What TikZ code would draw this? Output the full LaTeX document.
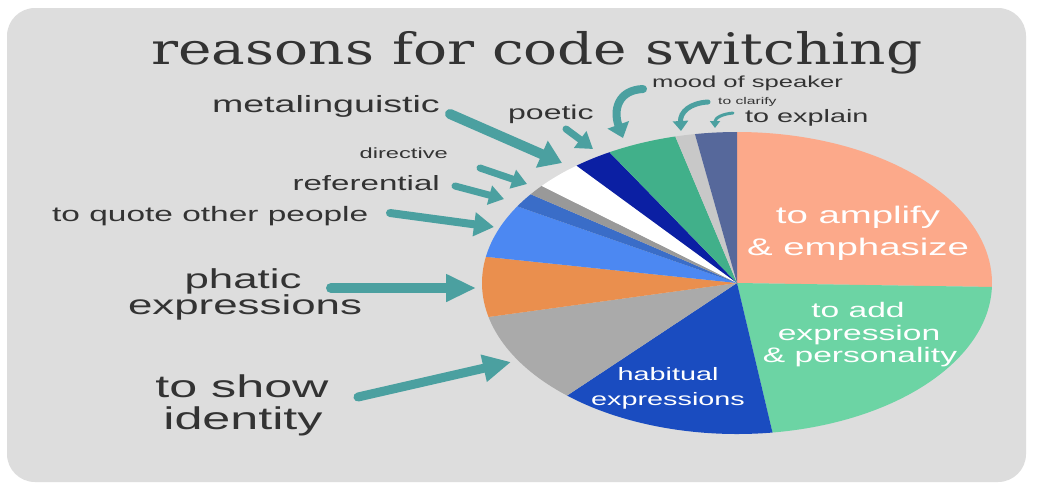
\documentclass[tikz,border=0pt]{standalone}
\usepackage{fontspec}
\setmainfont{Liberation Sans}[FakeStretch=1.6]
\newfontfamily\titlefont{DejaVu Serif}[FakeStretch=1.3]
\usetikzlibrary{arrows.meta}
\definecolor{bg}{HTML}{DDDDDD}
\definecolor{txt}{HTML}{333333}
\definecolor{arrc}{HTML}{4BA0A0}
\definecolor{salmon}{HTML}{FCA98A}
\definecolor{mint}{HTML}{6CD4A4}
\definecolor{dblue}{HTML}{1A4CC0}
\definecolor{mgray}{HTML}{AAAAAA}
\definecolor{orng}{HTML}{EA8F4E}
\definecolor{cflower}{HTML}{4C88F2}
\definecolor{steel}{HTML}{3A6DC8}
\definecolor{sgray}{HTML}{999999}
\definecolor{navy1}{HTML}{0B1FA3}
\definecolor{tgreen}{HTML}{41B08A}
\definecolor{lgray}{HTML}{C8C8C8}
\definecolor{slate}{HTML}{56689B}
\newcommand\fsz[1]{\fontsize{#1pt}{#1pt}\selectfont}
\newcommand\pieslice[3]{\fill[#3] (pc) -- ++({255*cos(#1)},{-151*sin(#1)}) arc[start angle={-(#1)}, end angle={-(#2)}, x radius=255, y radius=151] -- cycle;}
\tikzset{
  lbl/.style={inner sep=0pt, text=txt},
  inlbl/.style={inner sep=0pt, text=white, anchor=base},
  arrline/.style={draw=arrc, line cap=round},
}
\begin{document}
\begin{tikzpicture}[x=1pt,y=-1pt]
\useasboundingbox (0,0) rectangle (1038,488);
\fill[white] (0,0) rectangle (1038,488);
\fill[bg, rounded corners=28pt] (7,8) rectangle (1026,482);

\node[lbl, anchor=base, font=\titlefont\fsz{43.5}] (title) at (537,64) {reasons for code switching};

% pie
\coordinate (pc) at (737,283);
\pieslice{90}{-1.5}{salmon}
\pieslice{-1.5}{-82}{mint}
\pieslice{-82}{-131.8}{dblue}
\pieslice{-131.8}{-167}{mgray}
\pieslice{-167}{-190}{orng}
\pieslice{-190}{-210.5}{cflower}
\pieslice{-210.5}{-216}{steel}
\pieslice{-216}{-220}{sgray}
\pieslice{-220}{-231}{white}
\pieslice{-231}{-240}{navy1}
\pieslice{-240}{-256}{tgreen}
\pieslice{-256}{-260.5}{lgray}
\pieslice{-260.5}{-270}{slate}

% slice labels
\node[inlbl, font=\fsz{24}] (amp1) at (858,223) {to amplify};
\node[inlbl, font=\fsz{24}] (amp2) at (858,255) {\& emphasize};
\node[inlbl, font=\fsz{21}] (add1) at (858,317) {to add};
\node[inlbl, font=\fsz{21}] (add2) at (859,340) {expression};
\node[inlbl, font=\fsz{21}] (add3) at (860,362) {\& personality};
\node[inlbl, font=\fsz{18}] (hab1) at (668,380) {habitual};
\node[inlbl, font=\fsz{18}] (hab2) at (668,405) {expressions};

% outside labels
\node[lbl, anchor=base east, font=\fsz{23.5}] (meta) at (440,112) {metalinguistic};
\node[lbl, anchor=base west, font=\fsz{20}] (poetic) at (508,119) {poetic};
\node[lbl, anchor=base west, font=\fsz{16}] (mood) at (652,87) {mood of speaker};
\node[lbl, anchor=base west, font=\fsz{9.8}] (clarify) at (718,104) {to clarify};
\node[lbl, anchor=base west, font=\fsz{18}] (explain) at (745,122) {to explain};
\node[lbl, anchor=base east, font=\fsz{14.8}] (directive) at (448,158) {directive};
\node[lbl, anchor=base east, font=\fsz{20.7}] (referential) at (440,190) {referential};
\node[lbl, anchor=base west, font=\fsz{20.9}] (quote) at (52,221) {to quote other people};
\node[lbl, anchor=base, font=\fsz{27.4}] (phatic1) at (243,288) {phatic};
\node[lbl, anchor=base, font=\fsz{27.4}] (phatic2) at (245,314) {expressions};
\node[lbl, anchor=base, font=\fsz{31.4}] (ident1) at (242,397) {to show};
\node[lbl, anchor=base, font=\fsz{31.4}] (ident2) at (243,429) {identity};

% arrow ends
\coordinate (metaT) at (450,114);  \coordinate (metaH) at (562,163);
\coordinate (poeT) at (566,129);   \coordinate (poeH) at (593,149);
\coordinate (dirT) at (480,168);   \coordinate (dirH) at (527,184);
\coordinate (refT) at (455,186);   \coordinate (refH) at (504,199);
\coordinate (quoT) at (390,213);   \coordinate (quoH) at (494,227);
\coordinate (phaT) at (331,288);   \coordinate (phaH) at (476,288);
\coordinate (idT) at (358,397);    \coordinate (idH) at (511,362);
\coordinate (moodT) at (643,89);   \coordinate (moodH) at (623,138);
\coordinate (claT) at (708,102);   \coordinate (claH) at (681,131);
\coordinate (expT) at (733,113);   \coordinate (expH) at (715,128);

\draw[arrline, line width=10pt, -{Triangle[length=22pt,width=28pt]}] (metaT) -- (metaH);
\draw[arrline, line width=7pt, -{Triangle[length=16pt,width=20pt]}] (poeT) -- (poeH);
\draw[arrline, line width=7pt, -{Triangle[length=15pt,width=19pt]}] (dirT) -- (dirH);
\draw[arrline, line width=7pt, -{Triangle[length=15pt,width=19pt]}] (refT) -- (refH);
\draw[arrline, line width=8pt, -{Triangle[length=20pt,width=23pt]}] (quoT) -- (quoH);
\draw[arrline, line width=10pt, -{Triangle[length=30pt,width=26pt]}] (phaT) -- (phaH);
\draw[arrline, line width=9pt, -{Triangle[length=28pt,width=26pt]}] (idT) -- (idH);
\draw[arrline, line width=8pt, -{Triangle[length=14pt,width=22pt]}] (moodT) .. controls (618,90) and (613,110) .. (moodH);
\draw[arrline, line width=5pt, -{Triangle[length=10pt,width=15pt]}] (claT) .. controls (690,103) and (680,112) .. (claH);
\draw[arrline, line width=3pt, -{Triangle[length=7pt,width=10pt]}] (expT) .. controls (722,114) and (715,118) .. (expH);
\end{tikzpicture}
\end{document}
